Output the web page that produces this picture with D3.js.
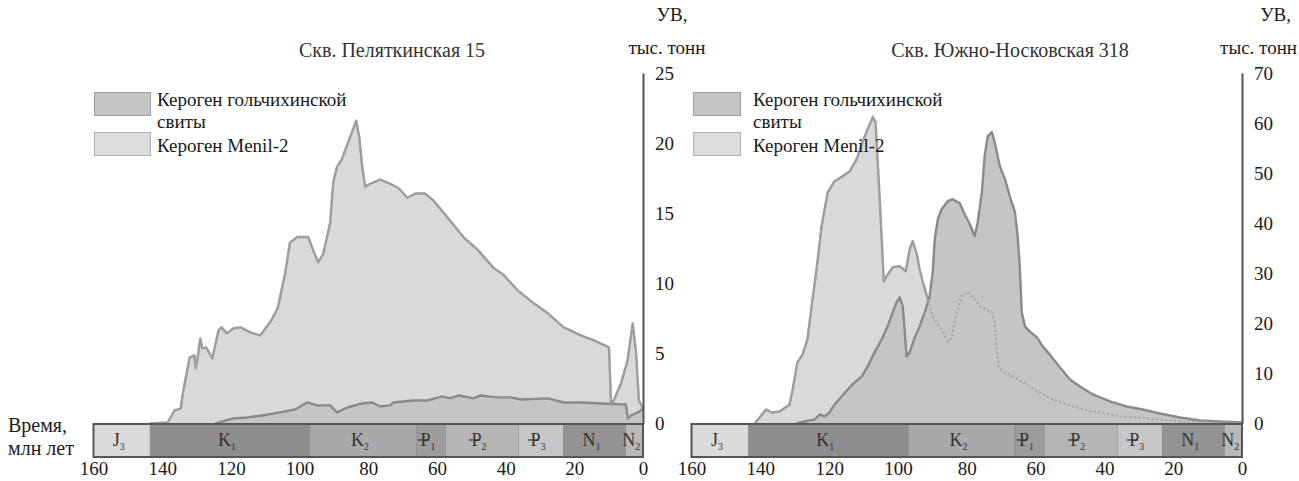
<!DOCTYPE html>
<html>
<head>
<meta charset="utf-8">
<script src="https://cdn.jsdelivr.net/npm/d3@7"></script>
<style>
  html, body { margin: 0; padding: 0; background: #fff; }
  svg { display: block; }
</style>
</head>
<body>
<svg id="chart" width="1299" height="481"></svg>
<script>
const FONT = "Liberation Serif";

// Time axis (млн лет) tick labels
const ageTicks = [160, 140, 120, 100, 80, 60, 40, 20, 0];

// Stratigraphic scale: stage symbol, subscript, start/end ages (Ma)
const stageSymbols = ["J", "K", "K", "P", "P", "P", "N", "N"];
const stageSubs    = ["3", "1", "2", "1", "2", "3", "1", "2"];
const stageStart   = [160, 143.5, 97, 66, 57.5, 36.2, 23.2, 5.1];
const stageEnd     = [143.5, 97, 66, 57.5, 36.2, 23.2, 5.1, 0];
const stageStrike  = [false, false, false, true, true, true, false, false];
const stageFills   = ["#dadada", "#8e8e8e", "#a9a9a9", "#9c9c9c", "#b5b5b5", "#c7c7c7", "#939393", "#b9b9b9"];

// Скв. Пеляткинская 15 — генерация УВ, тыс. тонн
const pelMenilAge = [143.6, 138.4, 136.4, 134.6, 134.0, 132.0, 130.6, 130.3, 129.8, 128.9, 128.3, 127.2, 125.4, 123.6, 122.7, 121.2, 119.2, 117.2, 114.3, 111.4, 108.2, 106.4, 104.2, 102.8, 100.7, 97.5, 96.1, 94.6, 93.1, 91.1, 90.2, 89.1, 87.6, 86.1, 84.7, 83.5, 82.6, 81.8, 80.9, 79.4, 76.5, 73.6, 71.2, 68.6, 66.3, 63.4, 61.0, 56.9, 52.3, 48.2, 46.4, 43.5, 40.6, 36.5, 31.8, 27.7, 23.1, 18.1, 14.3, 9.9, 9.3, 8.8, 6.4, 4.5, 3.0, 2.0, 1.2, 0];
const pelMenilVal = [0, 0.07, 0.93, 1.07, 2.14, 4.71, 4.86, 3.93, 4.5, 6.07, 5.36, 5.43, 4.64, 6.64, 6.86, 6.43, 6.79, 6.86, 6.5, 6.29, 7.36, 8.21, 10.7, 12.9, 13.3, 13.3, 12.4, 11.5, 12.1, 14.3, 17.2, 18.3, 18.9, 19.9, 20.8, 21.6, 20.4, 18.4, 16.9, 17.1, 17.4, 17.1, 16.8, 16.1, 16.4, 16.4, 15.9, 14.7, 13.3, 12.4, 11.9, 11.1, 10.6, 9.5, 8.57, 7.86, 6.86, 6.29, 5.93, 5.43, 1.43, 1.5, 2.86, 4.5, 7.14, 5.0, 1.64, 1.07];
const pelGolAge = [124.5, 119.4, 115.3, 110.9, 105.7, 101.3, 97.8, 94.9, 91.1, 89.1, 86.1, 81.8, 78.8, 76.5, 73.6, 72.7, 66.9, 62.8, 58.4, 56.1, 53.7, 49.3, 47.3, 42.3, 38.5, 35.6, 27.7, 23.1, 18.1, 12.3, 5.0, 4.4, 3.5, 1.5, 0];
const pelGolVal = [0, 0.36, 0.43, 0.57, 0.79, 1.0, 1.5, 1.29, 1.29, 0.79, 1.14, 1.43, 1.5, 1.21, 1.29, 1.5, 1.64, 1.64, 1.93, 1.79, 2.0, 1.79, 2.0, 1.86, 1.86, 1.71, 1.79, 1.5, 1.5, 1.43, 1.36, 0.36, 0.57, 0.79, 1.07];
const pelTicks = [0, 5, 10, 15, 20, 25];

// Скв. Южно-Носковская 318
const nosMenilAge = [141.6, 138.8, 138.2, 136.7, 134.4, 131.5, 130.6, 129.2, 127.7, 126.3, 125.1, 123.4, 122.2, 120.4, 118.4, 116.1, 114.0, 112.0, 110.3, 108.8, 107.3, 106.5, 105.3, 104.1, 103.3, 101.5, 99.5, 97.7, 96.6, 95.7, 94.5, 93.7, 92.8, 91.3, 89.9, 87.9, 85.5, 84.4, 82.9, 81.5, 79.7, 77.7, 76.2, 72.7, 71.9, 71.3, 70.7, 69.5, 66.6, 62.5, 58.8, 55.0, 50.9, 46.3, 41.3, 35.5, 29.7, 23.9, 18.0, 12.2, 0];
const nosMenilVal = [0, 2.4, 2.8, 2.2, 2.4, 3.8, 6.8, 12.2, 13.8, 16.8, 23.4, 32.2, 39.4, 46.2, 48.4, 49.4, 50.4, 52.8, 56.2, 58.8, 61.2, 60.2, 44.8, 28.4, 29.4, 31.2, 31.4, 30.4, 34.8, 36.4, 33.8, 30.8, 28.4, 24.8, 21.4, 19.4, 16.4, 17.2, 22.2, 25.4, 26.4, 24.8, 23.4, 22.2, 20.2, 14.8, 11.2, 10.4, 9.4, 7.8, 6.2, 4.8, 3.8, 2.8, 2.2, 1.4, 1.2, 0.8, 0.4, 0.4, 0];
const nosGolAge = [129.5, 127.1, 124.2, 122.8, 121.3, 119.9, 118.4, 116.4, 114.6, 112.6, 110.5, 108.8, 106.8, 104.7, 103.0, 101.5, 100.4, 99.5, 98.6, 98.0, 97.5, 96.6, 95.1, 93.7, 92.2, 90.8, 89.9, 89.3, 88.4, 87.3, 85.5, 84.1, 82.0, 80.6, 79.1, 77.7, 76.8, 75.6, 74.8, 73.9, 72.7, 71.9, 70.4, 68.9, 67.5, 66.0, 65.2, 64.6, 64.0, 63.1, 61.7, 59.6, 57.9, 55.9, 52.9, 50.0, 47.1, 43.3, 38.4, 33.5, 28.8, 23.9, 18.0, 12.2, 6.4, 0];
const nosGolVal = [0, 0.4, 0.8, 1.8, 1.4, 2.2, 3.8, 5.4, 6.8, 8.2, 9.4, 11.4, 14.2, 16.8, 19.4, 22.2, 24.2, 25.2, 23.4, 18.2, 13.4, 14.2, 17.2, 19.4, 22.2, 25.4, 30.2, 36.8, 40.8, 42.8, 44.4, 44.8, 44.0, 41.8, 39.8, 37.4, 40.2, 46.2, 53.4, 57.4, 58.2, 56.2, 51.4, 48.8, 45.4, 42.2, 37.4, 31.4, 22.2, 19.4, 18.4, 17.2, 15.4, 13.8, 11.2, 8.8, 7.4, 5.8, 4.4, 3.4, 2.8, 2.0, 1.2, 0.6, 0.4, 0.2];
const nosTicks = [0, 10, 20, 30, 40, 50, 60, 70];

const legendLabels = [["Кероген гольчихинской", "свиты"], ["Кероген Menil-2"]];

const colors = {
  menilFill: "#d9d9d9", menilStroke: "#9b9b9b",
  golFill: "#c5c5c5", golStroke: "#8a8a8a",
  axis: "#555555", text: "#1a1a1a"
};

const svg = d3.select("#chart").attr("font-family", FONT);

function label(parent, x, y, txt, size, anchor, fill) {
  return parent.append("text").attr("x", x).attr("y", y)
    .attr("text-anchor", anchor || "start").attr("font-family", FONT)
    .attr("font-size", size).attr("fill", fill || colors.text).text(txt);
}

function panel(opt) {
  const g = svg.append("g");
  const x = d3.scaleLinear().domain([160, 0]).range(opt.xRange);
  const y = d3.scaleLinear().domain([0, opt.yMax]).range([423.5, 73]);

  const zip = (a, v) => a.map((t, i) => [t, v[i]]);
  const menil = zip(opt.menilAge, opt.menilVal);
  const gol = zip(opt.golAge, opt.golVal);

  const area = d3.area().x(d => x(d[0])).y0(y(0)).y1(d => y(d[1]));
  const line = d3.line().x(d => x(d[0])).y(d => y(d[1]));

  // Menil-2 kerogen (back layer)
  g.append("path").datum(menil).attr("d", area).attr("fill", colors.menilFill);
  g.append("path").datum(menil).attr("d", line).attr("fill", "none")
    .attr("stroke", colors.menilStroke).attr("stroke-width", 2.4).attr("stroke-linejoin", "round");

  // Gol'chikha kerogen (front layer)
  g.append("path").datum(gol).attr("d", area).attr("fill", colors.golFill);
  g.append("path").datum(gol).attr("d", line).attr("fill", "none")
    .attr("stroke", colors.golStroke).attr("stroke-width", 2.4).attr("stroke-linejoin", "round");

  // Menil-2 outline seen through the front layer
  g.append("path").datum(menil).attr("d", line).attr("fill", "none")
    .attr("stroke", "#a3a3a3").attr("stroke-width", 2).attr("stroke-dasharray", "2,2.5");

  // Stratigraphic bar
  const barTop = 424, barH = 33;
  const stages = g.append("g");
  stageSymbols.forEach((s, i) => {
    const x0 = x(stageStart[i]), x1 = x(stageEnd[i]);
    stages.append("rect").attr("x", x0).attr("y", barTop).attr("width", x1 - x0).attr("height", barH)
      .attr("fill", stageFills[i]).attr("stroke", "#8a8a8a").attr("stroke-width", 0.6);
    const cx = (x0 + x1) / 2 - 3;
    const t = stages.append("text").attr("x", cx).attr("y", barTop + 22).attr("text-anchor", "middle")
      .attr("font-family", FONT).attr("font-size", 18).attr("fill", "#333");
    t.append("tspan").text(s);
    t.append("tspan").attr("font-size", 10).attr("dy", 4).text(stageSubs[i]);
    if (stageStrike[i]) {
      stages.append("line").attr("x1", cx - 10).attr("x2", cx + 1)
        .attr("y1", barTop + 16).attr("y2", barTop + 16).attr("stroke", "#333").attr("stroke-width", 1.2);
    }
  });
  g.append("rect").attr("x", x(160)).attr("y", barTop).attr("width", x(0) - x(160)).attr("height", barH)
    .attr("fill", "none").attr("stroke", colors.axis).attr("stroke-width", 2);

  // Time axis labels
  const xAxis = d3.axisBottom(x).tickValues(ageTicks).tickSize(0).tickPadding(5).tickFormat(d3.format("d"));
  const xg = g.append("g").attr("transform", `translate(0,${barTop + barH})`).call(xAxis)
    .attr("font-family", FONT);
  xg.select(".domain").remove();
  xg.selectAll("text").attr("font-size", 19).attr("font-family", FONT).attr("fill", colors.text);

  // Value axis on the right
  const yAxis = d3.axisRight(y).tickValues(opt.yTicks).tickSize(0).tickPadding(12).tickFormat(d3.format("d"));
  const yg = g.append("g").attr("transform", `translate(${x(0)},0)`).call(yAxis)
    .attr("font-family", FONT);
  yg.select(".domain").attr("stroke", colors.axis).attr("stroke-width", 2);
  yg.selectAll("text").attr("font-size", 19).attr("font-family", FONT).attr("fill", colors.text);

  // Units label
  label(g, opt.unitX + opt.unitShift, 21, "УВ,", 19, opt.unitAnchor);
  label(g, opt.unitX, 54, "тыс. тонн", 19, opt.unitAnchor);

  // Title
  label(g, opt.titleX, 57, opt.title, 20, "middle", "#333");

  // Legend
  const lg = g.append("g").attr("transform", `translate(${opt.legendX},0)`);
  lg.append("rect").attr("x", 0.5).attr("y", 92.5).attr("width", opt.legendW).attr("height", 23)
    .attr("fill", colors.golFill).attr("stroke", "#a0a0a0");
  lg.append("rect").attr("x", 0.5).attr("y", 132.5).attr("width", opt.legendW).attr("height", 23)
    .attr("fill", "#dcdcdc").attr("stroke", "#b0b0b0");
  const tx = opt.legendW + opt.legendGap;
  label(lg, tx, 106, legendLabels[0][0], 19);
  label(lg, tx, 128, legendLabels[0][1], 19);
  label(lg, tx, 152, legendLabels[1][0], 19);
}

panel({
  xRange: [93.5, 643], yMax: 25, yTicks: pelTicks,
  menilAge: pelMenilAge, menilVal: pelMenilVal, golAge: pelGolAge, golVal: pelGolVal,
  title: "Скв. Пеляткинская 15", titleX: 392, unitX: 667, unitShift: 5, unitAnchor: "middle",
  legendX: 94, legendW: 56, legendGap: 7
});
panel({
  xRange: [691.5, 1242], yMax: 70, yTicks: nosTicks,
  menilAge: nosMenilAge, menilVal: nosMenilVal, golAge: nosGolAge, golVal: nosGolVal,
  title: "Скв. Южно-Носковская 318", titleX: 1010, unitX: 1297, unitShift: -6, unitAnchor: "end",
  legendX: 693, legendW: 47, legendGap: 13
});

// Time axis caption
label(svg, 8, 432, "Время,", 20);
label(svg, 8, 455, "млн лет", 20);
</script>
</body>
</html>
